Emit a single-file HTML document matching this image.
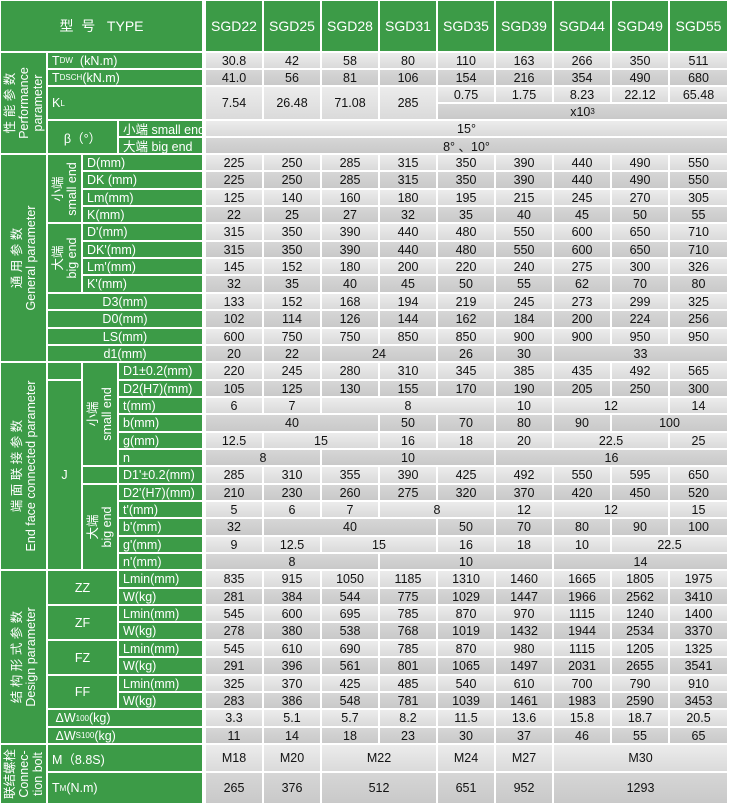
<!DOCTYPE html>
<html><head><meta charset="utf-8">
<style>
html,body{margin:0;padding:0;background:#fff;}
#tbl{position:relative;width:730px;height:804px;overflow:hidden;font-family:"Liberation Sans","Noto Sans CJK SC",sans-serif;}
.c{position:absolute;box-sizing:border-box;display:flex;align-items:center;font-size:12.5px;white-space:nowrap;}
.g{background:#3c9b47;color:#fff;}
.d{color:#111;justify-content:center;}
.l1{background:linear-gradient(#ececec,#dadada);}
.l2{background:linear-gradient(#d6d6d6,#c9c9c9);}
.ctr{justify-content:center;}
.lft{padding-left:4px;}
.rot{justify-content:center;}
.rot span{position:absolute;left:50%;top:50%;transform:translate(-50%,-50%) rotate(-90deg);text-align:center;line-height:14px;font-size:12.5px;}
sub{font-size:8px;vertical-align:-2px;}
sup{font-size:8px;}
.hd{font-size:14px;}
</style></head>
<body>
<div id="tbl"></div>
<script>
const models=["SGD22","SGD25","SGD28","SGD31","SGD35","SGD39","SGD44","SGD49","SGD55"];
const X=[205,263,321,379,437,495,553,611,669,728];
// row edges
const R=[0,52,69,86,103,120,137,154];
for(let i=1;i<=34;i++)R.push(Math.round(154+i*17.35));
R.push(772,804);
// data values per row index, "value|span"
const dataRows={
1:["30.8","42","58","80","110","163","266","350","511"],
2:["41.0","56","81","106","154","216","354","490","680"],
5:["15°|9"],
6:["8° 、10°|9"],
7:["225","250","285","315","350","390","440","490","550"],
8:["225","250","285","315","350","390","440","490","550"],
9:["125","140","160","180","195","215","245","270","305"],
10:["22","25","27","32","35","40","45","50","55"],
11:["315","350","390","440","480","550","600","650","710"],
12:["315","350","390","440","480","550","600","650","710"],
13:["145","152","180","200","220","240","275","300","326"],
14:["32","35","40","45","50","55","62","70","80"],
15:["133","152","168","194","219","245","273","299","325"],
16:["102","114","126","144","162","184","200","224","256"],
17:["600","750","750","850","850","900","900","950","950"],
18:["20","22","24|2","26","30","33|3"],
19:["220","245","280","310","345","385","435","492","565"],
20:["105","125","130","155","170","190","205","250","300"],
21:["6","7","8|3","10","12|2","14"],
22:["40|3","50","70","80","90","100|2"],
23:["12.5","15|2","16","18","20","22.5|2","25"],
24:["8|2","10|3","16|4"],
25:["285","310","355","390","425","492","550","595","650"],
26:["210","230","260","275","320","370","420","450","520"],
27:["5","6","7","8|2","12","12|2","15"],
28:["32","40|3","50","70","80","90","100"],
29:["9","12.5","15|2","16","18","10","22.5|2"],
30:["8|3","10|3","14|3"],
31:["835","915","1050","1185","1310","1460","1665","1805","1975"],
32:["281","384","544","775","1029","1447","1966","2562","3410"],
33:["545","600","695","785","870","970","1115","1240","1400"],
34:["278","380","538","768","1019","1432","1944","2534","3370"],
35:["545","610","690","785","870","980","1115","1205","1325"],
36:["291","396","561","801","1065","1497","2031","2655","3541"],
37:["325","370","425","485","540","610","700","790","910"],
38:["283","386","548","781","1039","1461","1983","2590","3453"],
39:["3.3","5.1","5.7","8.2","11.5","13.6","15.8","18.7","20.5"],
40:["11","14","18","23","30","37","46","55","65"],
41:["M18","M20","M22|2","M24","M27","M30|3"],
42:["265","376","512|2","651","952","1293|3"]
};
const klLow=["7.54","26.48","71.08","285"];
const klHigh=["0.75","1.75","8.23","22.12","65.48"];

const T=document.getElementById('tbl');
function mk(x0,x1,r0,r1,html,cls){
  const e=document.createElement('div');
  e.className='c '+cls;
  e.style.left=(x0+1)+'px';
  e.style.top=(R[r0]+1)+'px';
  e.style.width=(x1-x0-2)+'px';
  e.style.height=(R[r1]-R[r0]-2)+'px';
  e.innerHTML=html;
  T.appendChild(e);
  return e;
}
function shade(r){return (r%2===1)?'l1':'l2';}

// header
let h=mk(0,203,0,1,'型&nbsp;&nbsp;号&nbsp;&nbsp;&nbsp;TYPE','g ctr hd');


models.forEach((m,i)=>{
  const e=mk(X[i],X[i+1],0,1,m,'g ctr hd');
  
  
});

// label cells
const labels=[
[0,47,1,7,'性 能 参 数<br>Performance<br>parameter','rot'],
[0,47,7,19,'通 用 参 数<br>General parameter','rot'],
[0,47,19,31,'端 面 联 接 参 数<br>End face connected parameter','rot'],
[0,47,31,41,'结 构 形 式 参 数<br>Design parameter','rot'],
[0,47,41,43,'联结螺栓<br>Connec-<br>tion bolt','rot'],
[47,203,1,2,'T<sub>DW</sub>&nbsp; (kN.m)','lft'],
[47,203,2,3,'T<sub>DSCH</sub> (kN.m)','lft'],
[47,203,3,5,'K<sub>L</sub>','lft'],
[47,118,5,7,'β（°）','ctr'],
[118,203,5,6,'小端 small end','lft'],
[118,203,6,7,'大端 big end','lft'],
[47,82,7,11,'小端<br>small end','rot'],
[47,82,11,15,'大端<br>big end','rot'],
[82,203,7,8,'D(mm)','lft'],[82,203,8,9,'DK (mm)','lft'],[82,203,9,10,'Lm(mm)','lft'],[82,203,10,11,'K(mm)','lft'],
[82,203,11,12,"D'(mm)",'lft'],[82,203,12,13,"DK'(mm)",'lft'],[82,203,13,14,"Lm'(mm)",'lft'],[82,203,14,15,"K'(mm)",'lft'],
[47,203,15,16,'D3(mm)','ctr'],[47,203,16,17,'D0(mm)','ctr'],[47,203,17,18,'LS(mm)','ctr'],[47,203,18,19,'d1(mm)','ctr'],
[47,82,19,20,'','ctr'],
[47,82,20,31,'J','ctr'],
[82,118,19,25,'小端<br>small end','rot'],
[82,118,25,26,'','ctr'],
[82,118,26,31,'大端<br>big end','rot'],
[118,203,19,20,'D1±0.2(mm)','lft'],[118,203,20,21,'D2(H7)(mm)','lft'],[118,203,21,22,'t(mm)','lft'],
[118,203,22,23,'b(mm)','lft'],[118,203,23,24,'g(mm)','lft'],[118,203,24,25,'n','lft'],
[118,203,25,26,"D1'±0.2(mm)",'lft'],[118,203,26,27,"D2'(H7)(mm)",'lft'],[118,203,27,28,"t'(mm)",'lft'],
[118,203,28,29,"b'(mm)",'lft'],[118,203,29,30,"g'(mm)",'lft'],[118,203,30,31,"n'(mm)",'lft'],
[47,118,31,33,'ZZ','ctr'],[47,118,33,35,'ZF','ctr'],[47,118,35,37,'FZ','ctr'],[47,118,37,39,'FF','ctr'],
[118,203,31,32,'Lmin(mm)','lft'],[118,203,32,33,'W(kg)','lft'],[118,203,33,34,'Lmin(mm)','lft'],[118,203,34,35,'W(kg)','lft'],
[118,203,35,36,'Lmin(mm)','lft'],[118,203,36,37,'W(kg)','lft'],[118,203,37,38,'Lmin(mm)','lft'],[118,203,38,39,'W(kg)','lft'],
[47,203,39,40,'&nbsp;ΔW<sub>100</sub> (kg)','lft'],
[47,203,40,41,'&nbsp;ΔW<sub>S100</sub>(kg)','lft'],
[47,203,41,42,'M（8.8S)','lft'],
[47,203,42,43,'T<sub>M</sub> (N.m)','lft']
];
labels.forEach(L=>{
  const html=L[5]==='rot'?'<span>'+L[4]+'</span>':L[4];
  const e=mk(L[0],L[1],L[2],L[3],html,'g '+L[5]);
  
  
});

// KL row
klLow.forEach((v,i)=>{
  const e=mk(X[i],X[i+1],3,5,v,'d l1');
  
  
});
klHigh.forEach((v,i)=>{
  const e=mk(X[i+4],X[i+5],3,4,v,'d l1');
  
  
});
let kx=mk(X[4],X[9],4,5,'x10<sup>3</sup>','d l2');



// data rows
Object.keys(dataRows).forEach(k=>{
  const r=+k;
  let c=0;
  dataRows[k].forEach(s=>{
    const p=s.split('|');
    const span=p[1]?+p[1]:1;
    const e=mk(X[c],X[c+span],r,r+1,p[0],'d '+shade(r));
    
    
    c+=span;
  });
});
</script>
</body></html>
